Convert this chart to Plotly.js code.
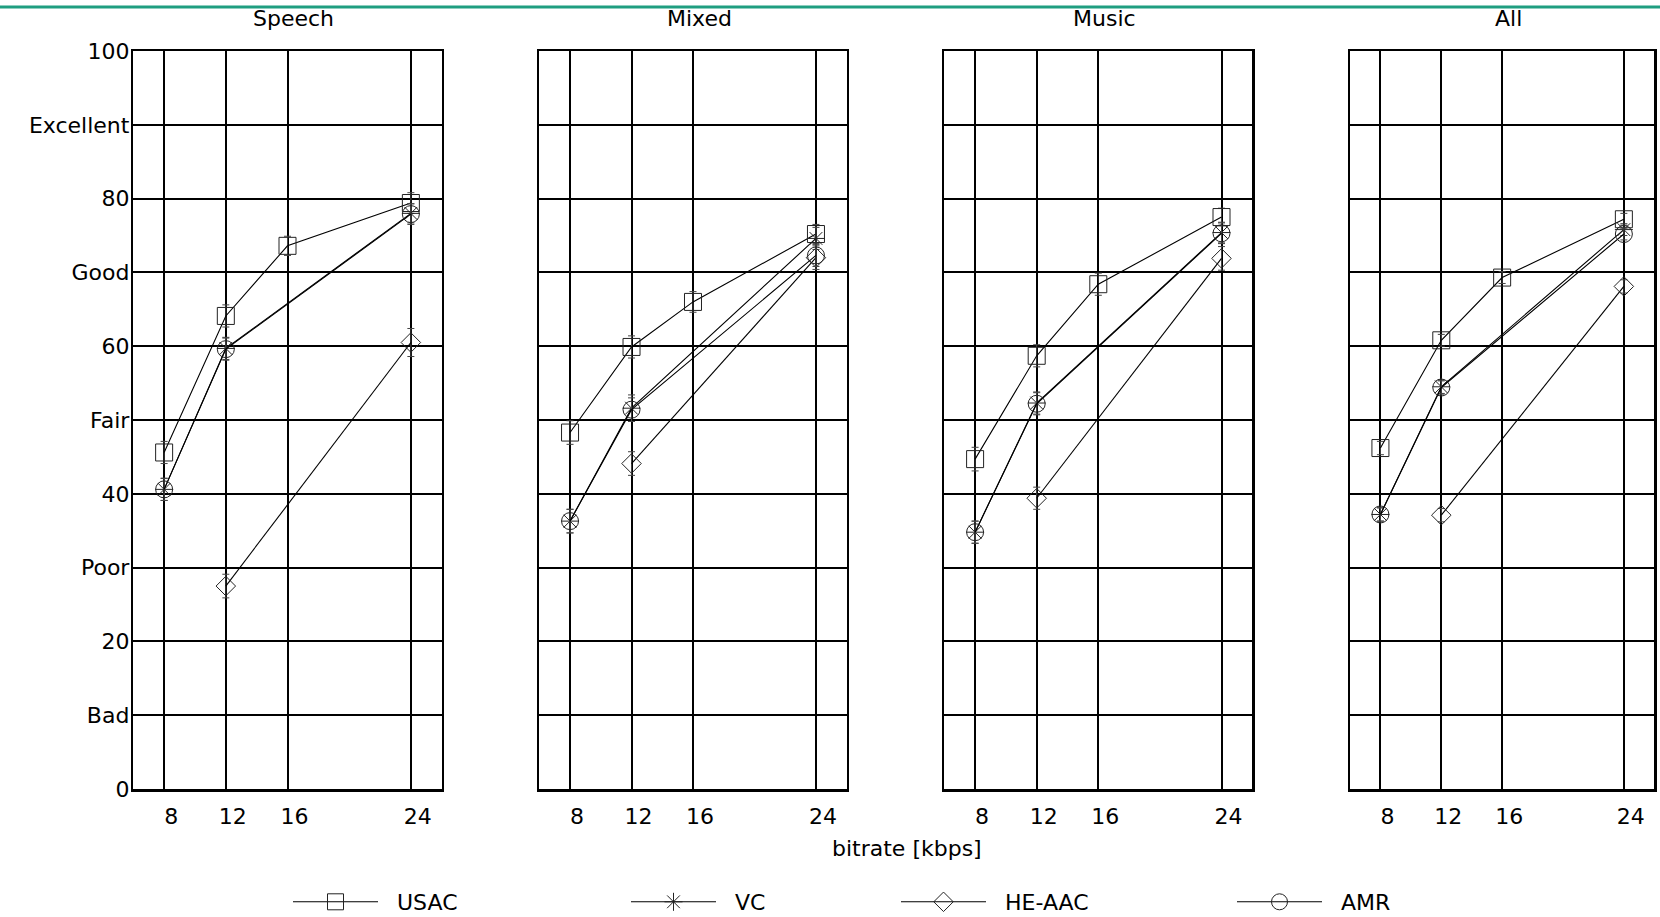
<!DOCTYPE html>
<html>
<head>
<meta charset="utf-8">
<script src="https://cdn.plot.ly/plotly-3.0.1.min.js"></script>
<style>html,body{margin:0;padding:0;background:#fff;}#chart{width:1660px;height:917px;}</style>
</head>
<body>
<div id="chart"></div>
<script>
// ---- data ----
const panelNames = ['Speech', 'Mixed', 'Music', 'All'];
const xTickVals = [8, 12, 16, 24];
const yTickVals = [0, 10, 20, 30, 40, 50, 60, 70, 80, 90, 100];
const yTickText = ['0', 'Bad', '20', 'Poor', '40', 'Fair', '60', 'Good', '80', 'Excellent', '100'];
const seriesNames = ['USAC', 'VC', 'HE-AAC', 'AMR'];

const usacX = [8, 12, 16, 24];
const vcX = [8, 12, 24];
const heaacX = [12, 24];
const amrX = [8, 12, 24];

// scores per panel (Speech, Mixed, Music, All)
const usacSpeech = [45.6, 64.1, 73.6, 79.4];
const usacMixed  = [48.3, 59.9, 66.0, 75.2];
const usacMusic  = [44.7, 58.7, 68.4, 77.5];
const usacAll    = [46.2, 60.8, 69.3, 77.2];

const vcSpeech = [40.6, 59.7, 78.0];
const vcMixed  = [36.3, 51.6, 74.6];
const vcMusic  = [34.8, 52.3, 75.4];
const vcAll    = [37.2, 54.5, 75.8];

const heaacSpeech = [27.5, 60.5];
const heaacMixed  = [44.1, 72.0];
const heaacMusic  = [39.4, 71.9];
const heaacAll    = [37.1, 68.1];

const amrSpeech = [40.6, 59.6, 77.9];
const amrMixed  = [36.3, 51.4, 72.3];
const amrMusic  = [34.8, 52.2, 75.3];
const amrAll    = [37.2, 54.4, 75.2];

// confidence intervals (+/-)
const usacSpeechErr = [1.5, 1.5, 1.3, 1.4];
const usacMixedErr  = [1.6, 1.5, 1.4, 1.3];
const usacMusicErr  = [1.6, 1.5, 1.5, 1.2];
const usacAllErr    = [0.9, 0.8, 0.8, 0.8];
const vcSpeechErr = [1.5, 1.5, 1.3];
const vcMixedErr  = [1.6, 1.8, 1.5];
const vcMusicErr  = [1.5, 1.5, 1.4];
const vcAllErr    = [0.9, 0.9, 0.8];
const heaacSpeechErr = [1.6, 1.9];
const heaacMixedErr  = [1.6, 1.6];
const heaacMusicErr  = [1.5, 1.6];
const heaacAllErr    = [0.9, 0.9];
const amrSpeechErr = [1.5, 1.5, 1.4];
const amrMixedErr  = [1.6, 1.6, 1.5];
const amrMusicErr  = [1.5, 1.5, 1.4];
const amrAllErr    = [0.9, 0.9, 0.8];

// ---- build ----
const FONT = 'DejaVu Sans, Liberation Sans, sans-serif';
const seriesX = [usacX, vcX, heaacX, amrX];
const seriesY = [
  [usacSpeech, usacMixed, usacMusic, usacAll],
  [vcSpeech, vcMixed, vcMusic, vcAll],
  [heaacSpeech, heaacMixed, heaacMusic, heaacAll],
  [amrSpeech, amrMixed, amrMusic, amrAll]
];
const seriesErr = [
  [usacSpeechErr, usacMixedErr, usacMusicErr, usacAllErr],
  [vcSpeechErr, vcMixedErr, vcMusicErr, vcAllErr],
  [heaacSpeechErr, heaacMixedErr, heaacMusicErr, heaacAllErr],
  [amrSpeechErr, amrMixedErr, amrMusicErr, amrAllErr]
];
const symbols = ['square-open', 'asterisk-open', 'diamond-open', 'circle-open'];
const sizes = [17, 15, 15, 17];
const legendIds = ['legend', 'legend2', 'legend3', 'legend4'];

const traces = [];
for (let p = 0; p < 4; p++) {
  const axSuffix = p === 0 ? '' : String(p + 1);
  for (let s = 0; s < 4; s++) {
    traces.push({
      type: 'scatter',
      mode: 'lines+markers',
      x: seriesX[s],
      y: seriesY[s][p],
      xaxis: 'x' + axSuffix,
      yaxis: 'y' + axSuffix,
      name: '\u00a0\u00a0' + seriesNames[s],
      legend: legendIds[s],
      showlegend: p === 0,
      line: {color: '#000', width: 1.1},
      marker: {symbol: symbols[s], size: sizes[s], color: '#222', line: {color: '#222', width: 1}},
      error_y: {type: 'data', array: seriesErr[s][p], visible: true, color: '#444', thickness: 1, width: 3.5},
      hoverinfo: 'x+y+name'
    });
  }
}

const W = 1660, H = 917;
const panelPx = [[133.3, 441.7], [539.3, 846.7], [944.3, 1252.3], [1350, 1654.3]];
const yDom = [1 - 789 / H, 1 - 51 / H];

const layout = {
  width: W, height: H,
  margin: {l: 0, r: 0, t: 0, b: 0, pad: 0, autoexpand: false},
  paper_bgcolor: '#fff', plot_bgcolor: '#fff',
  font: {family: FONT, size: 22, color: '#000'},
  annotations: [],
  shapes: [{type: 'line', xref: 'paper', yref: 'paper', x0: 0, x1: 1, y0: 1 - 7 / H, y1: 1 - 7 / H,
            line: {color: '#1f9e80', width: 3}}]
};

const legendLineStart = [293, 631, 901, 1237];
for (let s = 0; s < 4; s++) {
  layout[legendIds[s]] = {
    orientation: 'h', x: (legendLineStart[s] - 5) / W, xanchor: 'left',
    y: 1 - 902 / H, yanchor: 'middle',
    itemwidth: 85, bgcolor: 'rgba(0,0,0,0)', borderwidth: 0,
    font: {family: FONT, size: 22, color: '#000'}
  };
}

for (let p = 0; p < 4; p++) {
  const axSuffix = p === 0 ? '' : String(p + 1);
  layout['xaxis' + axSuffix] = {
    domain: [panelPx[p][0] / W, panelPx[p][1] / W],
    anchor: 'y' + axSuffix,
    range: [6, 26],
    tickmode: 'array', tickvals: xTickVals, ticktext: xTickVals.map(String),
    ticks: '', ticklabelshift: 7, ticklabelstandoff: 6,
    showgrid: true, gridcolor: '#000', gridwidth: 2,
    zeroline: false, showline: true, linecolor: '#000', linewidth: 2.5, mirror: true,
    tickfont: {family: FONT, size: 22, color: '#000'},
    fixedrange: true
  };
  layout['yaxis' + axSuffix] = {
    domain: yDom,
    anchor: 'x' + axSuffix,
    range: [0, 100],
    tickmode: 'array', tickvals: yTickVals, ticktext: yTickText,
    showticklabels: p === 0,
    ticks: '', ticklabelstandoff: -3,
    showgrid: true, gridcolor: '#000', gridwidth: 2,
    zeroline: false, showline: true, linecolor: '#000', linewidth: 2.5, mirror: true,
    tickfont: {family: FONT, size: 22, color: '#000'},
    fixedrange: true
  };
  layout.annotations.push({
    text: panelNames[p], xref: 'paper', yref: 'paper',
    x: ((panelPx[p][0] + panelPx[p][1]) / 2 + 6) / W, y: 1 - 19 / H,
    xanchor: 'center', yanchor: 'middle', showarrow: false,
    font: {family: FONT, size: 22, color: '#000'}
  });
}
layout.annotations.push({
  text: 'bitrate [kbps]', xref: 'paper', yref: 'paper',
  x: 907 / W, y: 1 - 848 / H, xanchor: 'center', yanchor: 'middle', showarrow: false,
  font: {family: FONT, size: 22, color: '#000'}
});

Plotly.newPlot('chart', traces, layout, {displayModeBar: false, staticPlot: true});
</script>
</body>
</html>
